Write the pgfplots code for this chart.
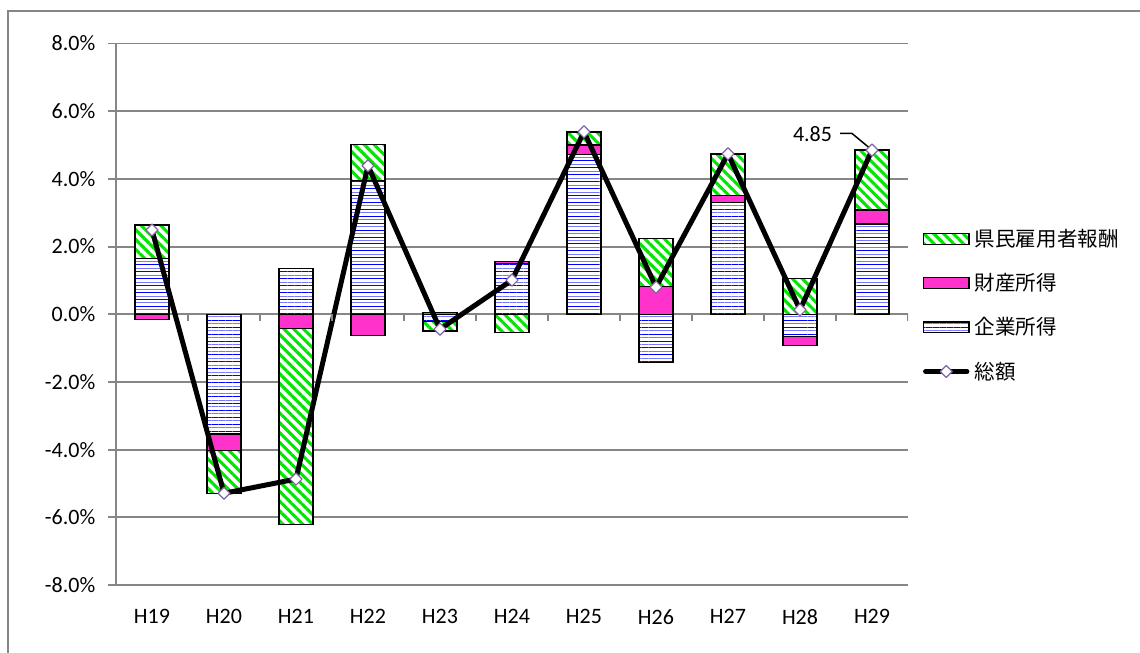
\documentclass[border=0pt]{standalone}
\usepackage{pgfplots}
\usepackage{pgfplotstable}
\pgfplotsset{compat=1.18}
\usepackage{fontspec}
\setmainfont{Carlito}
\newfontfamily\cjk{Noto Sans CJK JP}
\usetikzlibrary{patterns.meta}

\definecolor{gridgray}{RGB}{134,134,134}
\definecolor{kgreen}{RGB}{0,230,0}
\definecolor{kmagenta}{RGB}{255,51,204}
\definecolor{kblue}{RGB}{0,0,255}
\definecolor{klightblue}{RGB}{120,120,255}
\definecolor{kpurple}{RGB}{128,100,162}

\tikzset{
  wagebar/.style={draw=black, line width=1pt, preaction={fill=white},
    pattern={Lines[angle=-45,distance=5.2pt,line width=2.3pt]}, pattern color=kgreen},
  propbar/.style={draw=black, line width=1pt, fill=kmagenta},
  corpbar/.style={draw=black, line width=1pt, preaction={fill=white},
    preaction={pattern={Lines[angle=0,distance=5.2pt,line width=0.7pt]}, pattern color=kblue},
    pattern={Lines[angle=0,distance=5.2pt,yshift=2.6pt,line width=0.6pt]}, pattern color=klightblue},
  totline/.style={black, line width=3.75pt, line join=round, line cap=round,
    mark=square*, mark size=3.2pt,
    mark options={rotate=45, fill=white, draw=kpurple, line width=0.9pt, solid}},
}

% growth contributions (percentage points) and total growth (%)
\pgfplotstableread{
x  corp  prop   wage   total
0  1.65  -0.15  0.99   2.49
1  -3.54 -0.48  -1.27  -5.29
2  1.35  -0.43  -5.79  -4.87
3  3.96  -0.63  1.06   4.39
4  -0.22 0.05   -0.27  -0.44
5  1.50  0.05   -0.54  1.01
6  4.73  0.27   0.39   5.39
7  -1.43 0.82   1.41   0.80
8  3.31  0.19   1.24   4.74
9  -0.65 -0.27  1.05   0.13
10 2.67  0.41   1.77   4.85
}\data

\begin{document}
\begin{tikzpicture}
\begin{axis}[
  at={(87pt,51pt)}, anchor=south west,
  scale only axis, width=594pt, height=406.1pt,
  xmin=-0.5, xmax=10.5, ymin=-8, ymax=8,
  ybar stacked, bar width=25.5pt,
  reverse stacked plots=false,
  xtick={0,...,10},
  xticklabels={H19,H20,H21,H22,H23,H24,H25,H26,H27,H28,H29},
  ytick={-8,-6,...,8},
  axis y line*=left,
  x axis line style={draw=none},
  xtick style={draw=none},
  y axis line style={gridgray, line width=1.4pt},
  ytick style={gridgray, line width=1.4pt},
  tick align=outside, major tick length=6pt,
  ymajorgrids, grid style={gridgray, line width=1.4pt},
  /pgf/number format/assume math mode=true,
  yticklabel={\pgfmathprintnumber[fixed,fixed zerofill,precision=1]{\tick}\%},
  ticklabel style={font=\fontsize{16.5}{19}\selectfont, text=black},
  xticklabel style={yshift=-9pt},
  yticklabel style={xshift=-6pt},
  legend style={draw=none, fill=none, at={(axis description cs:1.0185,0.6575)},
    anchor=north west, font=\cjk\fontsize{15.4}{18}\selectfont,
    row sep=18.7pt, inner sep=0pt, nodes={inner sep=0pt},
    /tikz/every odd column/.append style={column sep=4pt}},
  legend cell align=left,
]
% Excel-like stacking: positive and negative parts stack separately
\addplot[corpbar, forget plot] table[x=x, y=corp]{\data};
\addplot[propbar, forget plot] table[x=x, y=prop]{\data};
\addplot[wagebar, forget plot] table[x=x, y=wage]{\data};
% total
\addplot[totline, sharp plot, stack plots=false, forget plot] table[x=x, y=total]{\data};

\addlegendimage{legend image code/.code={\draw[wagebar] (0pt,-4pt) rectangle (34pt,4pt);}}
\addlegendentry{県民雇用者報酬}
\addlegendimage{legend image code/.code={\draw[propbar] (0pt,-4pt) rectangle (34pt,4pt);}}
\addlegendentry{財産所得}
\addlegendimage{legend image code/.code={\draw[corpbar] (0pt,-4pt) rectangle (34pt,4pt);}}
\addlegendentry{企業所得}
\addlegendimage{legend image code/.code={\draw[totline, sharp plot, mark repeat=2, mark phase=2] plot coordinates {(1.5pt,0pt) (17pt,0pt) (32.5pt,0pt)};}}
\addlegendentry{総額}

% category boundary ticks on the zero line
\pgfplotsinvokeforeach{0.5,1.5,...,10.5}{
  \draw[gridgray, line width=1.4pt] (axis cs:#1,0) -- ++(0pt,-5.25pt);
}
% value label for H29
\draw[black, line width=1.1pt] ([xshift=-24pt,yshift=12.5pt]axis cs:10,4.85) -- ++(9pt,0pt) -- ([xshift=-1.5pt,yshift=1.3pt]axis cs:10,4.85);
\node[font=\fontsize{16.5}{19}\selectfont, anchor=center] at ([xshift=-44.6pt,yshift=11.8pt]axis cs:10,4.85) {4.85};
\end{axis}
% chart frame
\draw[gridgray, line width=1.5pt] (6pt,-5pt) -- (6pt,481.75pt) -- (870pt,481.75pt);
\pgfresetboundingbox
\useasboundingbox (0,0) rectangle (855pt,489.75pt);
\end{tikzpicture}
\end{document}
